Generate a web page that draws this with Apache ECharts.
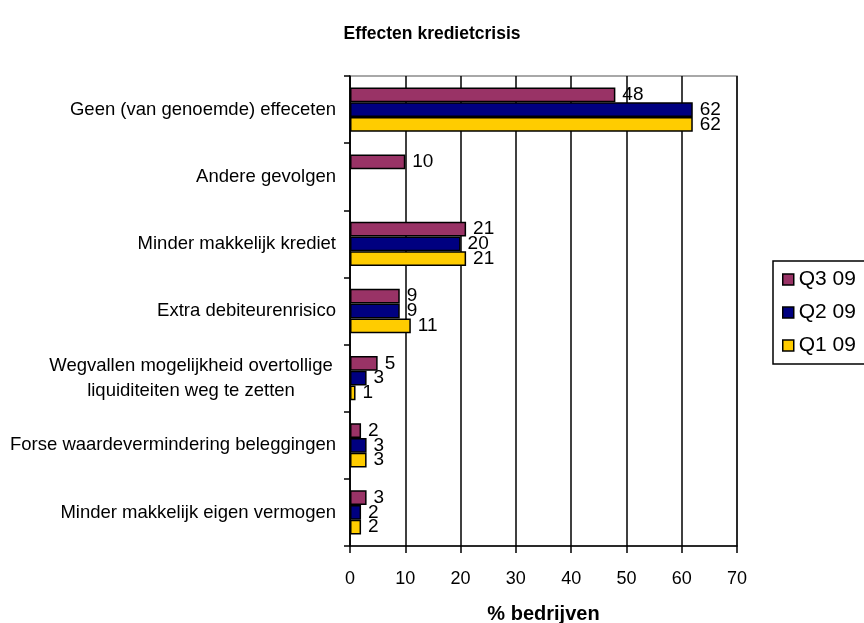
<!DOCTYPE html>
<html>
<head>
<meta charset="utf-8">
<script src="https://cdn.jsdelivr.net/npm/echarts@6/dist/echarts.min.js"></script>
<style>
  html, body { margin: 0; padding: 0; background: #fff; }
  #chart { width: 864px; height: 623px; }
</style>
</head>
<body>
<div id="chart"></div>
<script>
// Categories, top to bottom
const categories = [
  'Geen (van genoemde) effeceten',
  'Andere gevolgen',
  'Minder makkelijk krediet',
  'Extra debiteurenrisico',
  'Wegvallen mogelijkheid overtollige\nliquiditeiten weg te zetten',
  'Forse waardevermindering beleggingen',
  'Minder makkelijk eigen vermogen'
];

// Share of companies (%) per quarter
const q3Values = [48, 10, 21, 9, 5, 2, 3];
const q2Values = [62, null, 20, 9, 3, 3, 2];
const q1Values = [62, null, 21, 11, 1, 3, 2];

const seriesNames = ['Q3 09', 'Q2 09', 'Q1 09'];
const xTicks = { min: 0, max: 70, interval: 10 };

const FONT = 'Liberation Sans, Arial, sans-serif';
const colors = ['#993366', '#000080', '#FFCC00'];

function barSeries(name, values, color) {
  return {
    name: name,
    type: 'bar',
    data: values,
    barGap: '0%',
    barCategoryGap: '34%',
    itemStyle: { color: color, borderColor: '#000', borderWidth: 1.5 },
    label: {
      show: true,
      position: 'right',
      distance: 7,
      color: '#000',
      fontFamily: FONT,
      fontSize: 19,
      formatter: p => String(p.value)
    }
  };
}

const chart = echarts.init(document.getElementById('chart'), null, { renderer: 'canvas' });
chart.setOption({
  animation: false,
  backgroundColor: '#fff',
  title: {
    text: 'Effecten kredietcrisis',
    left: 'center',
    top: 20,
    textStyle: { fontFamily: FONT, fontSize: 17.5, fontWeight: 'bold', color: '#000' }
  },
  legend: {
    orient: 'vertical',
    left: 773,
    top: 261,
    data: seriesNames,
    icon: 'rect',
    itemWidth: 11,
    itemHeight: 11,
    itemGap: 12,
    padding: [8, 40, 8, 9],
    borderColor: '#000',
    borderWidth: 1.5,
    textStyle: { fontFamily: FONT, fontSize: 21, color: '#000' },
    itemStyle: { borderColor: '#000', borderWidth: 1.5 }
  },
  grid: {
    left: 350,
    right: 127,
    top: 76,
    bottom: 77,
    outerBoundsMode: 'none',
    show: true,
    borderColor: '#8c8c8c',
    borderWidth: 1.5,
    backgroundColor: '#fff'
  },
  xAxis: {
    type: 'value',
    min: xTicks.min,
    max: xTicks.max,
    interval: xTicks.interval,
    name: '% bedrijven',
    nameLocation: 'middle',
    nameGap: 58,
    nameTextStyle: { fontFamily: FONT, fontSize: 20, fontWeight: 'bold', color: '#000' },
    axisLine: { show: true, lineStyle: { color: '#000', width: 1.5 } },
    axisTick: { show: true, length: 7, lineStyle: { color: '#000', width: 1.5 } },
    axisLabel: { margin: 24, fontFamily: FONT, fontSize: 18, color: '#000' },
    splitLine: { show: true, lineStyle: { color: '#000', width: 1.5 } }
  },
  yAxis: {
    type: 'category',
    inverse: true,
    data: categories,
    axisLine: { show: true, lineStyle: { color: '#000', width: 1.5 } },
    axisTick: { show: true, length: 6, lineStyle: { color: '#000', width: 1.5 } },
    axisLabel: {
      margin: 14,
      fontFamily: FONT,
      fontSize: 18.5,
      color: '#000',
      formatter: v => v.indexOf('\n') >= 0
        ? v.split('\n').map(s => '{c|' + s + '}').join('\n')
        : v,
      rich: {
        c: { width: 290, align: 'center', fontFamily: FONT, fontSize: 18.5, lineHeight: 25, color: '#000' }
      }
    }
  },
  series: [
    barSeries(seriesNames[0], q3Values, colors[0]),
    barSeries(seriesNames[1], q2Values, colors[1]),
    barSeries(seriesNames[2], q1Values, colors[2])
  ]
});
</script>
</body>
</html>
